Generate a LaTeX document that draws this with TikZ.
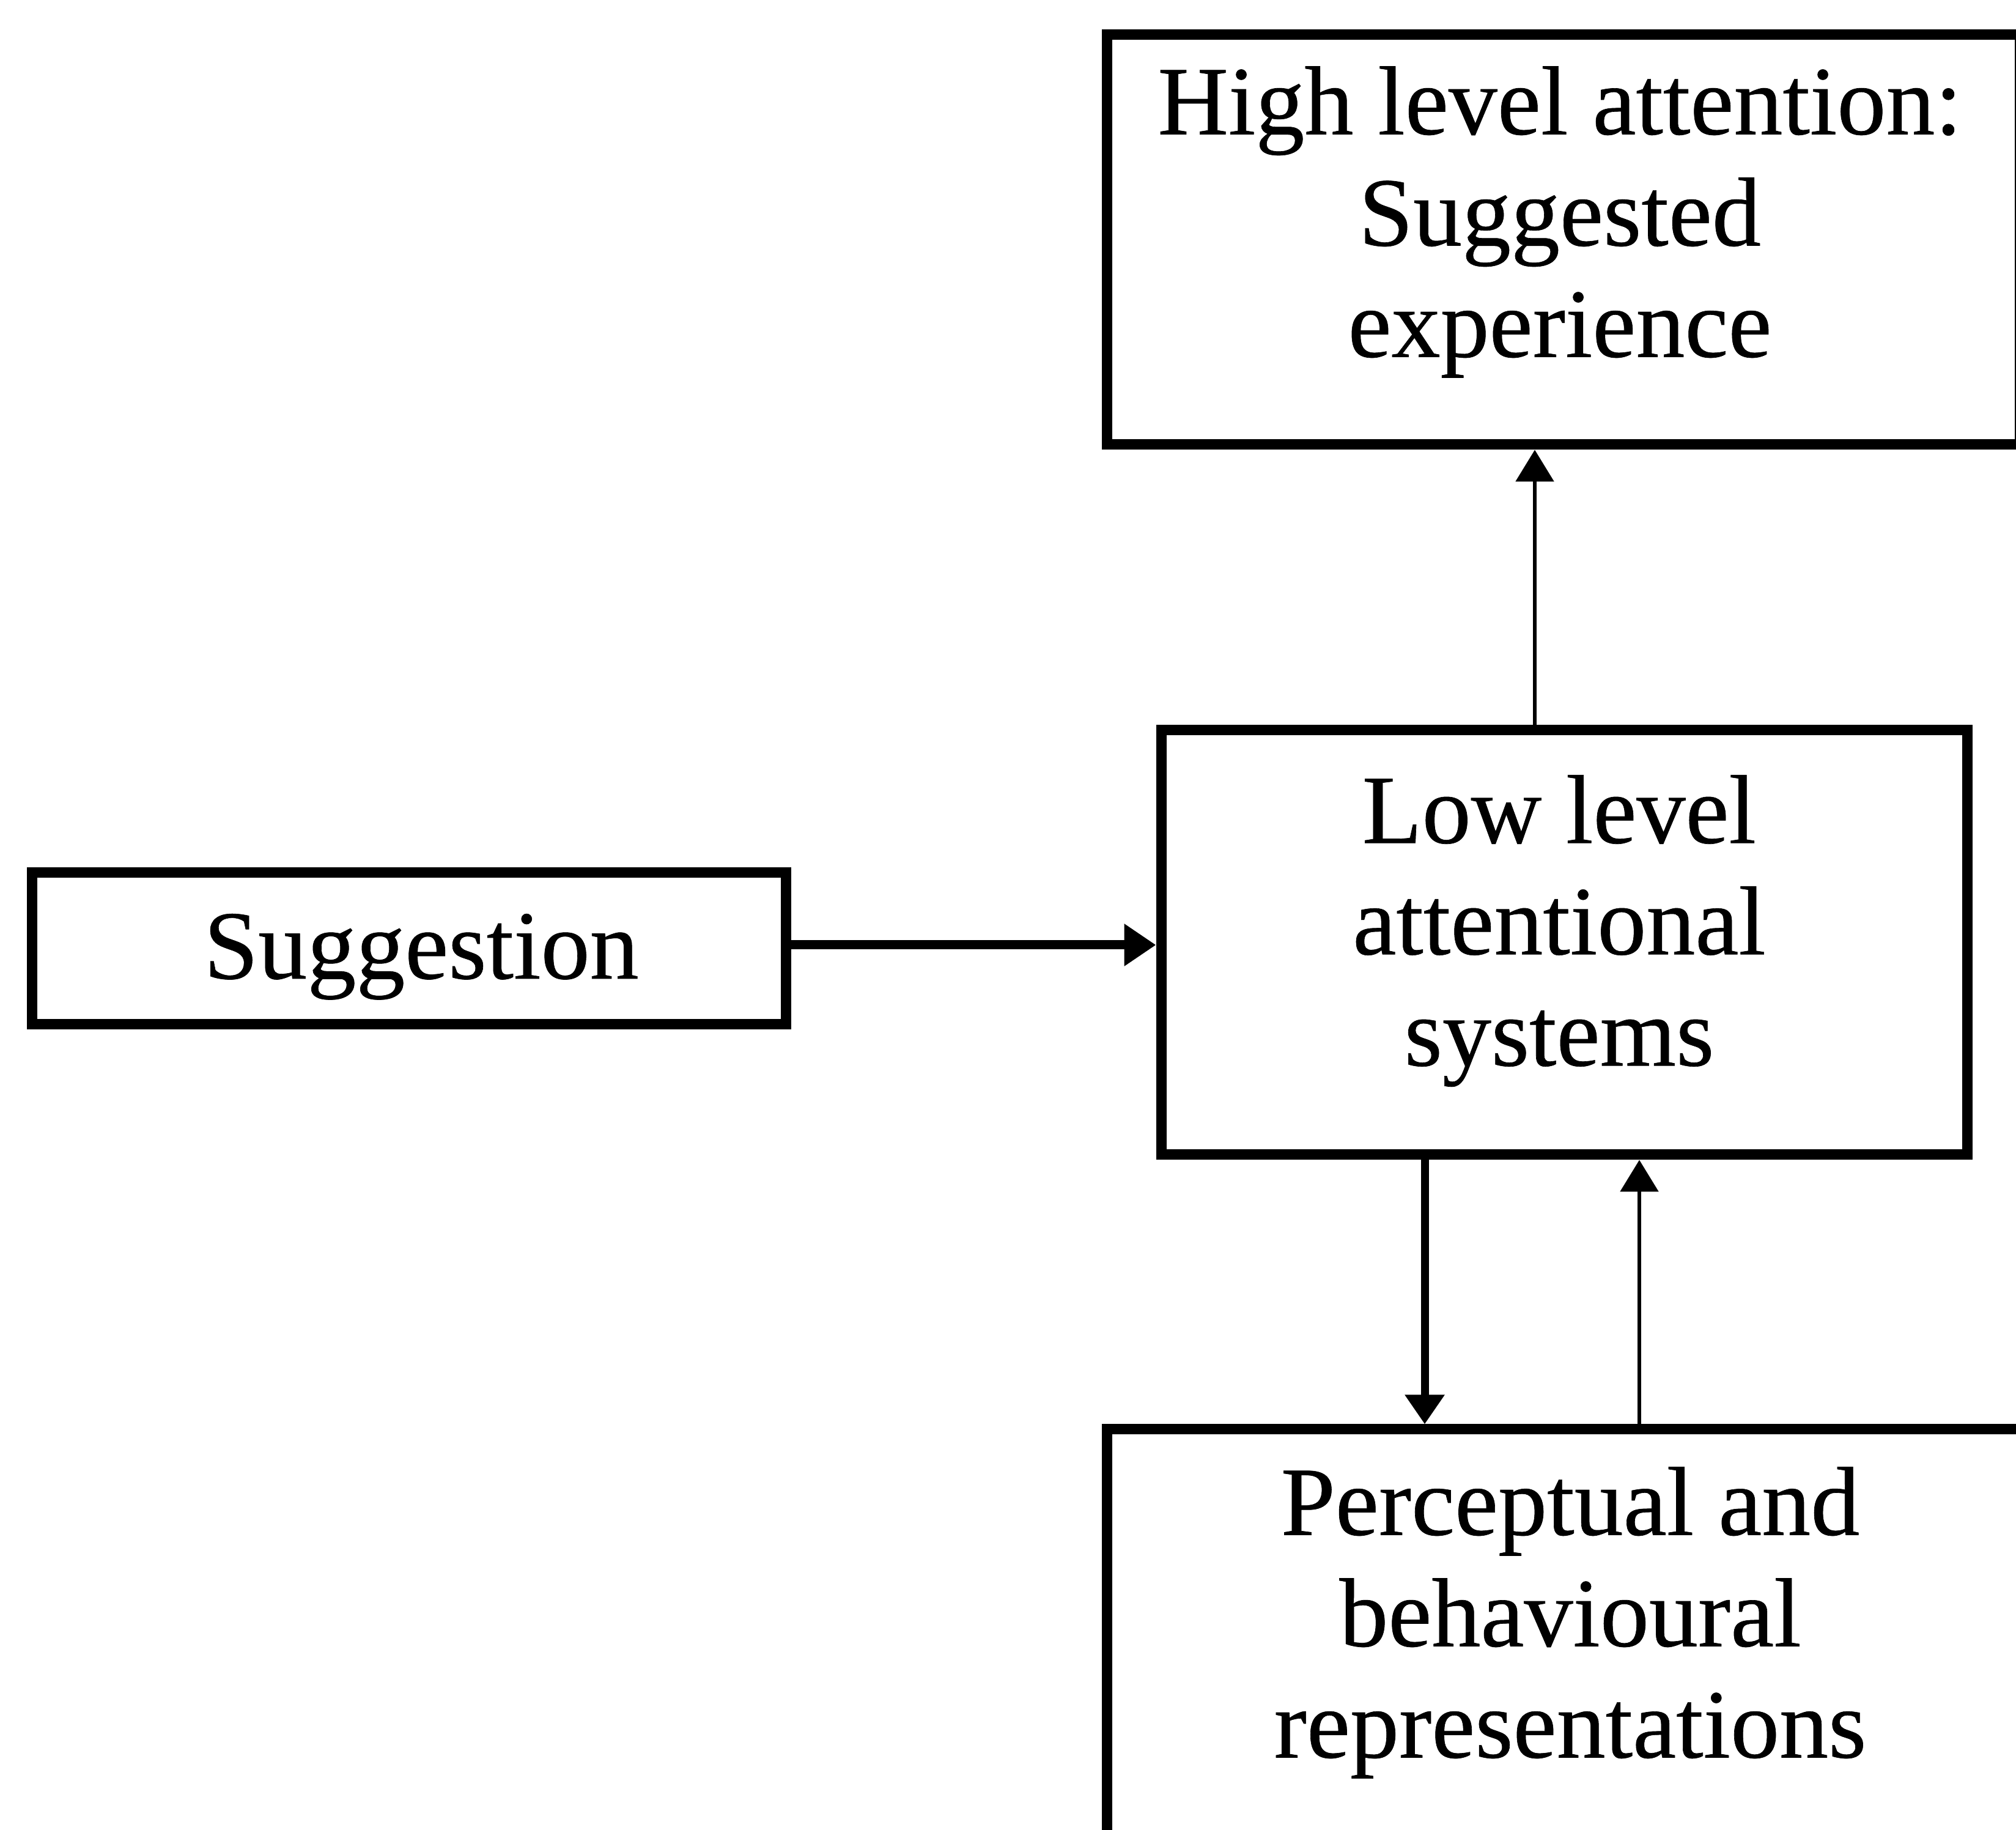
\documentclass[tikz,border=0pt]{standalone}
\usepackage{fontspec}
\setmainfont{Liberation Serif}
\newfontfamily\scanfont{Liberation Serif}[FakeBold=0.4]
\usetikzlibrary{arrows.meta}
\begin{document}
\begin{tikzpicture}[x=1pt,y=-1pt,
  boxnode/.style={draw=black, line width=1.7pt, inner sep=0pt},
  txt/.style={font=\scanfont\fontsize{16}{18.2}\selectfont, align=center, inner sep=0pt},
  boldarr/.style={line width=1.5pt, -{Triangle[width=6.6pt,length=5.2pt]}},
  downarr/.style={line width=1.3pt, -{Triangle[width=6.2pt,length=4.8pt]}},
  thinarr/.style={line width=0.6pt, -{Triangle[width=6.2pt,length=5.2pt]}}]
\useasboundingbox (0,0) rectangle (329.7,299.2);
\clip (0,0) rectangle (329.7,299.2);
\fill[white] (0,0) rectangle (329.7,299.2);

% boxes
\node[boxnode, minimum width=149.3pt, minimum height=67pt] (high) at (255.65,39.2) {};
\node[boxnode, minimum width=131.8pt, minimum height=69.4pt] (low) at (255.8,154.1) {};
\node[boxnode, minimum width=123.3pt, minimum height=24.8pt] (sugg) at (66.85,155.1) {};
\node[boxnode, minimum width=152pt, minimum height=86.3pt] (perc) at (257,276.85) {};

% texts
\node[txt] (hightxt) at (255.1,36.3) {High level attention:\\Suggested\\experience};
\node[txt] (lowtxt) at (255.0,152.2) {Low level\\attentional\\systems};
\node[txt, anchor=base] (suggtxt) at (68.9,160.0) {Suggestion};
\node[txt] (perctxt) at (256.8,265.3) {Perceptual and\\behavioural\\representations};

% connector positions
\coordinate (ahy) at (0,154.5);
\coordinate (aup) at (251.0,0);
\coordinate (adown) at (233.0,0);
\coordinate (afb) at (268.1,0);

% connectors
\draw[boldarr] (sugg.east |- ahy) -- (low.west |- ahy);
\draw[thinarr] (low.north -| aup) -- (high.south -| aup);
\draw[downarr] (low.south -| adown) -- (perc.north -| adown);
\draw[thinarr] (perc.north -| afb) -- (low.south -| afb);
\end{tikzpicture}
\end{document}
